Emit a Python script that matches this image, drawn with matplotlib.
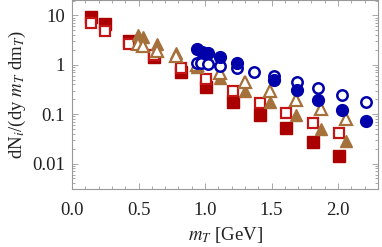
import numpy as np
import matplotlib
matplotlib.use("Agg")
import matplotlib.pyplot as plt
from matplotlib.ticker import MultipleLocator, LogLocator, NullFormatter, FixedLocator

plt.rcParams['font.family'] = ['Liberation Serif', 'DejaVu Serif']
plt.rcParams['mathtext.fontset'] = 'stix'

# pions (red squares)
pi_mt = [0.14, 0.25, 0.43, 0.615, 0.82, 1.01, 1.21, 1.41, 1.61, 1.81, 2.01]
pi_filled = [9.5, 6.6, 3.1, 1.45, 0.71, 0.35, 0.18, 0.095, 0.052, 0.027, 0.014]
pi_open = [7.2, 4.75, 2.7, 1.55, 0.85, 0.51, 0.29, 0.17, 0.105, 0.066, 0.042]

# kaons (brown triangles)
k_mt = [0.495, 0.53, 0.64, 0.78, 0.94, 1.11, 1.30, 1.49, 1.68, 1.87, 2.06]
k_filled = [3.95, 3.6, 2.6, 1.7, 0.89, 0.53, 0.29, 0.175, 0.095, 0.05, 0.0285]
k_open = [2.6, 2.37, 1.88, 1.48, 0.98, 0.67, 0.44, 0.29, 0.19, 0.126, 0.079]

# protons (blue circles)
p_mt_filled = [0.94, 0.975, 1.02, 1.11, 1.24, 1.52, 1.69, 1.85, 2.03, 2.21]
p_filled = [2.06, 1.79, 1.71, 1.42, 1.07, 0.49, 0.305, 0.19, 0.12, 0.072]
p_mt_open = [0.94, 0.97, 1.02, 1.11, 1.24, 1.37, 1.52, 1.69, 1.85, 2.03, 2.21]
p_open = [1.07, 1.07, 1.02, 0.93, 0.85, 0.71, 0.59, 0.44, 0.335, 0.242, 0.175]

red_f, red_o = "#aa0000", "#c41414"
brown = "#a5703a"
blue = "#0000aa"

fig = plt.figure(figsize=(3.82, 2.47), dpi=100)
ax = fig.add_axes([72/382, 1-189/247, (378-72)/382, 189/247 - 0.002])

ax.plot(pi_mt, pi_filled, ls="none", marker="s", ms=8, color=red_f, mec=red_f)
ax.plot(pi_mt, pi_open, ls="none", marker="s", ms=7, mfc="white", mec=red_o, mew=1.6)
ax.plot(k_mt, k_filled, ls="none", marker="^", ms=9, color=brown, mec=brown)
ax.plot(k_mt, k_open, ls="none", marker="^", ms=8, mfc="white", mec=brown, mew=1.6)
ax.plot(p_mt_open, p_open, ls="none", marker="o", ms=7.5, mfc="white", mec=blue, mew=1.8)
ax.plot(p_mt_filled, p_filled, ls="none", marker="o", ms=8.5, color=blue, mec=blue)

ax.set_yscale("log")
ax.set_xlim(0, 2.30)
ax.set_ylim(0.00306, 20.1)

ax.xaxis.set_major_locator(MultipleLocator(0.5))
ax.xaxis.set_minor_locator(MultipleLocator(0.1))
ax.xaxis.set_major_formatter(plt.FuncFormatter(lambda v, p: f"{v:.1f}"))
ax.yaxis.set_major_locator(FixedLocator([0.01, 0.1, 1, 10]))
ax.yaxis.set_major_formatter(plt.FuncFormatter(lambda v, p: {0.01: "0.01", 0.1: "0.1", 1: "1", 10: "10"}.get(round(v, 2), "")))
ax.yaxis.set_minor_locator(LogLocator(base=10, subs=np.arange(2, 10), numticks=20))
ax.yaxis.set_minor_formatter(NullFormatter())

for s in ax.spines.values():
    s.set_color("#999999")
    s.set_linewidth(0.8)
ax.tick_params(which="both", direction="in", top=True, right=True, color="#999999",
               labelsize=13.5, labelcolor="#222222", width=0.6)
ax.tick_params(which="major", length=4)
ax.tick_params(axis="x", which="major", pad=9)
ax.tick_params(axis="y", which="major", pad=5)
ax.tick_params(which="minor", length=2)

ax.set_xlabel("$m_T$ [GeV]", fontsize=13.5, labelpad=5, color="#222222")
ax.set_ylabel("dN$_i$/(dy $m_T$ dm$_T$)", fontsize=13.5, labelpad=3, color="#222222")

fig.savefig("out.png", dpi=100)
